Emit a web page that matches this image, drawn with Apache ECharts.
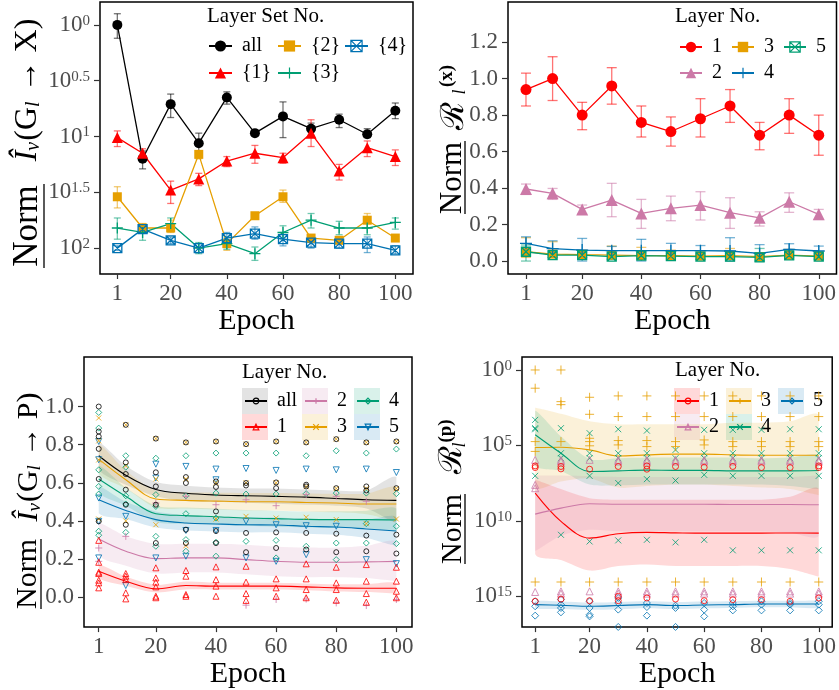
<!DOCTYPE html>
<html>
<head>
<meta charset="utf-8">
<script src="https://cdn.jsdelivr.net/npm/echarts@6/dist/echarts.min.js"></script>
<style>
html, body { margin: 0; padding: 0; background: #fff; }
#main { width: 839px; height: 690px; }
</style>
</head>
<body>
<div id="main"></div>
<script>
var epochs = [1, 10, 20, 30, 40, 50, 60, 70, 80, 90, 100];
var xTicks = [1, 20, 40, 60, 80, 100];
var tlTicks = [0, 0.5, 1, 1.5, 2];
var trTicks = [0, 0.2, 0.4, 0.6, 0.8, 1.0, 1.2];
var blTicks = [0, 0.2, 0.4, 0.6, 0.8, 1.0];
var brTicks = [0, 5, 10, 15];

// top left: exponents shown on the axis (10^x), mean and error bar ends
var tlAll = [0.00, 1.20, 0.71, 1.06, 0.65, 0.97, 0.82, 0.93, 0.85, 0.98, 0.77];
var tlAllLo = [-0.10, 1.13, 0.62, 0.97, 0.60, 0.95, 0.69, 0.88, 0.80, 0.93, 0.70];
var tlAllHi = [0.12, 1.29, 0.83, 1.15, 0.71, 0.99, 1.01, 1.00, 0.92, 1.01, 0.84];
var tlSet1 = [1.01, 1.15, 1.48, 1.38, 1.22, 1.15, 1.19, 0.97, 1.31, 1.10, 1.18];
var tlSet1Lo = [0.95, 1.11, 1.40, 1.33, 1.18, 1.08, 1.15, 0.85, 1.25, 1.04, 1.12];
var tlSet1Hi = [1.09, 1.18, 1.60, 1.44, 1.27, 1.24, 1.24, 1.09, 1.39, 1.18, 1.26];
var tlSet2 = [1.54, 1.82, 1.82, 1.16, 1.96, 1.71, 1.54, 1.91, 1.93, 1.75, 1.91];
var tlSet2Lo = [1.45, 1.78, 1.75, 1.13, 1.93, 1.69, 1.48, 1.89, 1.91, 1.69, 1.89];
var tlSet2Hi = [1.64, 1.85, 1.86, 1.20, 2.02, 1.73, 1.59, 1.93, 1.95, 1.82, 1.93];
var tlSet3 = [1.82, 1.86, 1.78, 2.00, 1.96, 2.05, 1.86, 1.75, 1.82, 1.82, 1.77];
var tlSet3Lo = [1.73, 1.80, 1.73, 1.95, 1.90, 1.99, 1.80, 1.69, 1.76, 1.76, 1.73];
var tlSet3Hi = [1.92, 1.93, 1.83, 2.05, 2.01, 2.11, 1.92, 1.82, 1.88, 1.88, 1.83];
var tlSet4 = [2.00, 1.83, 1.93, 2.00, 1.91, 1.87, 1.92, 1.95, 1.96, 1.96, 2.02];
var tlSet4Lo = [1.98, 1.79, 1.90, 1.96, 1.86, 1.81, 1.86, 1.90, 1.91, 1.90, 1.98];
var tlSet4Hi = [2.02, 1.86, 1.96, 2.04, 1.97, 1.92, 1.98, 2.00, 2.00, 2.04, 2.05];

// top right
var trL1 = [0.94, 1.00, 0.80, 0.96, 0.76, 0.71, 0.78, 0.85, 0.69, 0.80, 0.69];
var trL1Lo = [0.85, 0.88, 0.72, 0.86, 0.68, 0.63, 0.68, 0.76, 0.61, 0.70, 0.58];
var trL1Hi = [1.03, 1.12, 0.87, 1.06, 0.85, 0.79, 0.89, 0.94, 0.76, 0.89, 0.80];
var trL2 = [0.395, 0.371, 0.283, 0.334, 0.261, 0.289, 0.307, 0.265, 0.237, 0.325, 0.256];
var trL2Lo = [0.365, 0.338, 0.258, 0.243, 0.179, 0.221, 0.225, 0.179, 0.192, 0.267, 0.228];
var trL2Hi = [0.422, 0.398, 0.307, 0.426, 0.338, 0.356, 0.380, 0.347, 0.270, 0.374, 0.283];
var trL3 = [0.051, 0.038, 0.035, 0.033, 0.030, 0.030, 0.027, 0.030, 0.024, 0.033, 0.027];
var trL3Lo = [0.020, 0.020, 0.020, 0.010, 0.010, 0.010, 0.010, 0.010, 0.010, 0.010, 0.010];
var trL3Hi = [0.128, 0.106, 0.060, 0.082, 0.075, 0.060, 0.050, 0.069, 0.040, 0.064, 0.050];
var trL4 = [0.097, 0.068, 0.060, 0.057, 0.057, 0.057, 0.057, 0.055, 0.042, 0.064, 0.055];
var trL4Lo = [0.060, 0.030, 0.000, 0.030, 0.000, 0.020, 0.030, 0.000, 0.000, 0.030, 0.030];
var trL4Hi = [0.133, 0.111, 0.124, 0.080, 0.119, 0.097, 0.085, 0.128, 0.090, 0.095, 0.082];
var trL5 = [0.051, 0.033, 0.033, 0.024, 0.030, 0.027, 0.024, 0.024, 0.020, 0.031, 0.024];
var trL5Lo = [0.000, 0.020, 0.020, 0.010, 0.015, 0.015, 0.010, 0.010, 0.000, 0.020, 0.010];
var trL5Hi = [0.088, 0.050, 0.050, 0.040, 0.045, 0.040, 0.040, 0.040, 0.069, 0.050, 0.040];

// bottom left: smoothed fits and their bands
var blAllFit = [0.742, 0.640, 0.565, 0.545, 0.536, 0.532, 0.529, 0.525, 0.518, 0.511, 0.508];
var blAllLo = [0.670, 0.590, 0.530, 0.505, 0.500, 0.495, 0.490, 0.485, 0.480, 0.465, 0.390];
var blAllHi = [0.810, 0.690, 0.605, 0.585, 0.575, 0.570, 0.570, 0.565, 0.560, 0.560, 0.630];
var bl1Fit = [0.136, 0.084, 0.044, 0.061, 0.058, 0.058, 0.058, 0.054, 0.049, 0.047, 0.047];
var bl1Lo = [0.100, 0.060, 0.025, 0.040, 0.040, 0.040, 0.040, 0.036, 0.030, 0.027, 0.020];
var bl1Hi = [0.170, 0.108, 0.065, 0.082, 0.076, 0.076, 0.076, 0.072, 0.068, 0.068, 0.074];
var bl2Fit = [0.305, 0.241, 0.202, 0.206, 0.206, 0.197, 0.188, 0.183, 0.183, 0.185, 0.188];
var bl2Lo = [0.220, 0.165, 0.125, 0.130, 0.130, 0.120, 0.110, 0.105, 0.105, 0.100, 0.085];
var bl2Hi = [0.390, 0.320, 0.280, 0.280, 0.280, 0.275, 0.265, 0.260, 0.260, 0.270, 0.290];
var bl3Fit = [0.724, 0.616, 0.515, 0.508, 0.504, 0.501, 0.501, 0.497, 0.494, 0.489, 0.489];
var bl3Lo = [0.650, 0.570, 0.470, 0.465, 0.460, 0.455, 0.455, 0.450, 0.445, 0.435, 0.400];
var bl3Hi = [0.800, 0.665, 0.560, 0.550, 0.548, 0.547, 0.547, 0.544, 0.543, 0.543, 0.575];
var bl4Fit = [0.620, 0.529, 0.438, 0.428, 0.422, 0.415, 0.412, 0.408, 0.407, 0.407, 0.405];
var bl4Lo = [0.550, 0.480, 0.395, 0.385, 0.380, 0.373, 0.370, 0.366, 0.363, 0.360, 0.345];
var bl4Hi = [0.690, 0.575, 0.480, 0.470, 0.464, 0.457, 0.454, 0.450, 0.451, 0.454, 0.465];
var bl5Fit = [0.511, 0.455, 0.407, 0.389, 0.384, 0.380, 0.379, 0.372, 0.368, 0.358, 0.347];
var bl5Lo = [0.440, 0.410, 0.365, 0.350, 0.345, 0.340, 0.340, 0.333, 0.327, 0.310, 0.270];
var bl5Hi = [0.580, 0.500, 0.450, 0.430, 0.423, 0.420, 0.418, 0.411, 0.409, 0.406, 0.420];

// bottom left: raw points, one list per epoch
var blAllPts = [[1.0, 0.869, 0.843, 0.778, 0.62, 0.398], [0.904, 0.707, 0.646, 0.564, 0.485, 0.38], [0.832, 0.655, 0.581, 0.485, 0.284], [0.812, 0.63, 0.599, 0.354, 0.284], [0.817, 0.607, 0.578, 0.45, 0.347, 0.284], [0.803, 0.599, 0.586, 0.337, 0.236], [0.817, 0.602, 0.572, 0.34, 0.258], [0.812, 0.59, 0.581, 0.337, 0.25], [0.829, 0.572, 0.333, 0.236], [0.812, 0.581, 0.56, 0.323, 0.241], [0.817, 0.572, 0.328, 0.229]];
var bl1Pts = [[0.298, 0.183, 0.131, 0.124, 0.089, 0.075, 0.049], [0.124, 0.11, 0.092, 0.023, -0.009], [0.154, 0.101, 0.079, 0.054, 0.005, -0.003], [0.14, 0.11, 0.014, 0.005], [0.159, 0.092, 0.058, 0.005], [0.162, 0.079, 0.019, -0.017], [0.096, 0.049, 0.005], [0.175, 0.096, 0.04, -0.003], [0.157, 0.075, 0.04, -0.016], [0.171, 0.084, 0.019, -0.026], [0.157, 0.084, 0.031, -0.003]];
var bl2Pts = [[0.258, 0.188], [0.319], [0.494], [0.529], [0.485], [0.511, -0.042], [0.48, -0.012], [0.538, -0.01], [0.529, -0.03], [0.503, -0.044], [-0.012]];
var bl3Pts = [[0.94, 0.82, 0.72, 0.41], [0.904, 0.69, 0.40], [0.832, 0.62, 0.38], [0.812, 0.62, 0.27], [0.817, 0.60, 0.41], [0.803, 0.60, 0.424], [0.817, 0.60, 0.415], [0.812, 0.58, 0.419], [0.829, 0.57, 0.407], [0.812, 0.57, 0.386], [0.817, 0.57, 0.41]];
var bl4Pts = [[0.969, 0.887, 0.668, 0.581, 0.541, 0.346, 0.325], [0.742, 0.682, 0.532, 0.489, 0.34], [0.729, 0.538, 0.476, 0.319, 0.267], [0.742, 0.532, 0.438, 0.302, 0.241], [0.756, 0.546, 0.415, 0.288, 0.215], [0.756, 0.541, 0.293], [0.756, 0.541, 0.298, 0.206], [0.742, 0.543, 0.267], [0.768, 0.546, 0.284, 0.197], [0.756, 0.546, 0.386, 0.284], [0.777, 0.543, 0.372, 0.281]];
var bl5Pts = [[0.817, 0.721, 0.52, 0.398, 0.206], [0.424, 0.061], [0.698, 0.625, 0.206], [0.686, 0.35, 0.215], [0.672, 0.616, 0.35], [0.675, 0.398, 0.206], [0.665, 0.38, 0.188], [0.672, 0.375, 0.223], [0.668, 0.372], [0.672, 0.197], [0.654, 0.176]];

// bottom right: exponents (10^x), fits and bands
var br1Fit = [8.17, 10.04, 11.15, 10.86, 10.77, 10.80, 10.82, 10.82, 10.82, 10.81, 10.82];
var br1Lo = [7.3, 7.9, 8.5, 8.6, 8.6, 8.6, 8.6, 8.6, 8.6, 8.4, 7.9];
var br1Hi = [12.2, 12.6, 13.3, 13.0, 12.9, 13.0, 13.0, 13.0, 13.0, 13.2, 13.7];
var br2Fit = [9.56, 9.16, 8.87, 8.90, 8.90, 8.90, 8.90, 8.92, 8.92, 8.92, 8.94];
var br2Lo = [7.0, 7.0, 7.05, 7.1, 7.1, 7.1, 7.1, 7.1, 7.1, 7.1, 7.0];
var br2Hi = [12.0, 11.0, 10.6, 10.7, 10.7, 10.7, 10.7, 10.7, 10.7, 10.8, 11.0];
var br3Fit = [5.14, 5.12, 5.30, 5.70, 5.63, 5.58, 5.58, 5.63, 5.65, 5.65, 5.65];
var br3Lo = [2.5, 2.9, 3.4, 3.6, 3.6, 3.6, 3.6, 3.5, 3.5, 3.4, 3.0];
var br3Hi = [7.8, 7.4, 7.2, 7.8, 7.7, 7.6, 7.6, 7.7, 7.8, 7.9, 8.3];
var br4Fit = [4.30, 5.52, 6.73, 6.69, 6.64, 6.66, 6.66, 6.69, 6.69, 6.69, 6.67];
var br4Lo = [2.7, 4.4, 5.9, 5.85, 5.8, 5.8, 5.8, 5.8, 5.85, 5.8, 5.7];
var br4Hi = [6.3, 6.7, 7.6, 7.65, 7.6, 7.6, 7.6, 7.6, 7.6, 7.7, 7.9];
var br5Fit = [15.56, 15.60, 15.67, 15.62, 15.56, 15.62, 15.58, 15.56, 15.52, 15.52, 15.52];
var br5Lo = [15.30, 15.35, 15.42, 15.38, 15.33, 15.38, 15.35, 15.33, 15.30, 15.30, 15.28];
var br5Hi = [15.80, 15.85, 15.90, 15.86, 15.80, 15.85, 15.80, 15.78, 15.74, 15.74, 15.76];

var br1Pts = [[6.36, 6.47, 15.34], [6.40, 6.56, 15.19], [6.58, 15.30], [6.40, 15.01, 15.30], [6.36, 6.58, 15.12], [6.40, 15.19], [6.45, 15.30], [6.40, 15.23], [6.47, 15.23], [6.47, 15.34], [6.36, 6.47, 15.12]];
var br2Pts = [[5.96, 7.62, 7.84, 14.72], [5.96, 6.07, 14.68, 14.83], [5.96, 14.68], [5.96, 6.07, 14.68, 14.83], [5.96, 6.07, 14.68, 14.83], [5.96, 6.07, 14.68, 14.83], [5.96, 6.07, 14.68, 14.83], [5.96, 6.07, 14.68, 14.83], [5.96, 6.07, 14.68, 14.83], [5.96, 6.07, 14.68, 14.83], [5.96, 6.07, 14.68, 14.83]];
var br3Pts = [[0, 1.21, 4.75, 5.4, 14.06], [0, 2.1, 2.3, 4.75, 14.06], [1.81, 2.94, 4.53, 4.75, 5.03, 14.06], [1.72, 3.09, 4.68, 4.97, 14.06], [1.72, 3.09, 4.68, 5.08, 14.06], [1.72, 3.09, 4.75, 5.08, 14.06], [1.72, 3.09, 4.64, 4.97, 14.06], [1.72, 3.09, 4.75, 5.08, 14.06], [1.72, 3.09, 4.75, 5.08, 14.06], [1.72, 3.09, 4.75, 5.08, 14.06], [1.72, 3.09, 4.75, 5.08, 14.06]];
var br4Pts = [[3.31, 3.86, 3.93, 7.02], [3.86, 5.52, 5.85, 10.93], [4.19, 5.52, 5.85, 7.02, 11.37], [3.93, 5.52, 5.85, 7.50, 11.30], [4.02, 5.52, 5.85, 7.24, 11.26], [5.30, 5.85, 7.33, 11.43], [3.97, 5.52, 5.85, 6.95, 11.26], [3.97, 5.52, 5.85, 7.02, 11.96], [3.97, 5.52, 5.85, 7.02, 11.96], [3.93, 5.52, 5.85, 7.02, 11.96], [3.93, 5.52, 5.85, 7.02, 11.96]];
var br5Pts = [[15.34, 15.67, 16.29], [15.23, 15.56, 15.78, 16.07], [15.34, 15.78, 16.23, 16.34], [15.12, 15.45, 15.89, 17.04], [15.45, 15.72, 16.29], [15.63, 15.78, 17.04], [15.45, 15.89, 16.34], [15.45, 15.67, 15.94], [15.34, 15.56, 15.94], [15.45, 15.56, 15.94], [15.34, 15.56, 15.94]];

(function () {
    var FONT = "'Liberation Serif', 'DejaVu Serif', serif";
    var BLACK = '#000000', RED = '#FF0000', ORANGE = '#E69F00', GREEN = '#009E73', BLUE = '#0072B2', PINK = '#CC79A7';
    var GREY = '#4D4D4D';

    var PLUS = 'path://M5,0 L5,10 M0,5 L10,5';
    var CROSS = 'path://M0,0 L10,10 M10,0 L0,10';
    var BOXX = 'path://M0,0 L10,0 L10,10 L0,10 Z M0,0 L10,10 M10,0 L0,10';
    var OCIRCLE = 'path://M10,5 A5,5 0 1,1 0,5 A5,5 0 1,1 10,5 Z';
    var OTRI = 'path://M5,0 L10,9 L0,9 Z';
    var ODOWN = 'path://M0,0 L10,0 L5,9 Z';
    var ODIAM = 'path://M5,0 L10,5 L5,10 L0,5 Z';
    var NOFILL = 'rgba(0,0,0,0)';

    function fade(hex, a) {
        var r = parseInt(hex.substr(1, 2), 16), g = parseInt(hex.substr(3, 2), 16), b = parseInt(hex.substr(5, 2), 16);
        return 'rgba(' + r + ',' + g + ',' + b + ',' + a + ')';
    }
    function pairs(ys) {
        return epochs.map(function (e, i) { return [e, ys[i]]; });
    }
    function points(lists) {
        var out = [];
        lists.forEach(function (vals, i) {
            vals.forEach(function (v) { out.push([epochs[i], v]); });
        });
        return out;
    }

    var grids = [
        { left: 100, top: 2, width: 313, height: 272 },
        { left: 508, top: 2, width: 329, height: 272 },
        { left: 84, top: 357, width: 328, height: 271 },
        { left: 522, top: 357, width: 314, height: 271 }
    ].map(function (g) {
        g.show = true;
        g.borderColor = '#000';
        g.borderWidth = 1.5;
        g.backgroundColor = 'transparent';
        return g;
    });

    function xAxis(idx, min, max, gap) {
        return {
            type: 'value', gridIndex: idx, min: min, max: max, position: 'bottom',
            axisLine: { show: false, onZero: false },
            splitLine: { show: false },
            axisTick: { customValues: xTicks, length: 5, lineStyle: { color: '#333', width: 1.2 } },
            axisLabel: { customValues: xTicks, fontSize: 23, color: GREY, fontFamily: FONT, margin: 8 },
            name: 'Epoch', nameLocation: 'middle', nameGap: gap,
            nameTextStyle: { fontSize: 30, color: '#000', fontFamily: FONT }
        };
    }
    function yAxis(idx, min, max, ticks, inverse, fmt) {
        return {
            type: 'value', gridIndex: idx, min: min, max: max, inverse: inverse, position: 'left',
            axisLine: { show: false, onZero: false },
            splitLine: { show: false },
            axisTick: { customValues: ticks, length: 6, lineStyle: { color: '#333', width: 1.2 } },
            axisLabel: {
                customValues: ticks, fontSize: 23, color: GREY, fontFamily: FONT, margin: 10,
                formatter: fmt,
                rich: { s: { fontSize: 15, color: GREY, fontFamily: FONT, verticalAlign: 'top', padding: [0, 0, 8, 0] } }
            }
        };
    }
    function pow10(v) { return '10{s|' + v + '}'; }
    function fixed1(v) { return v.toFixed(1); }

    var series = [];

    // confidence band: one smoothed polygon per group, corners placed through the axes
    function band(idx, lo, hi, color, alpha) {
        series.push({
            type: 'custom', xAxisIndex: idx, yAxisIndex: idx, silent: true, z: 1, clip: true,
            data: epochs.map(function (e, i) { return [e, lo[i], hi[i]]; }),
            encode: { x: 0, y: [1, 2] },
            renderItem: function (params, api) {
                if (params.dataIndex !== 0) {
                    return null;
                }
                var upper = [], lower = [];
                for (var i = 0; i < epochs.length; i++) {
                    upper.push(api.coord([epochs[i], hi[i]]));
                    lower.unshift(api.coord([epochs[i], lo[i]]));
                }
                var pts = upper.concat(lower);
                var mn = [Infinity, Infinity], mx = [-Infinity, -Infinity];
                pts.forEach(function (p) {
                    mn[0] = Math.min(mn[0], p[0]); mn[1] = Math.min(mn[1], p[1]);
                    mx[0] = Math.max(mx[0], p[0]); mx[1] = Math.max(mx[1], p[1]);
                });
                return {
                    type: 'polygon',
                    shape: { points: pts, smooth: 0.3, smoothConstraint: [mn, mx] },
                    style: { fill: fade(color, alpha) }
                };
            }
        });
    }
    function errorBars(idx, lo, hi, color, half) {
        series.push({
            type: 'custom', xAxisIndex: idx, yAxisIndex: idx, silent: true, z: 3,
            data: epochs.map(function (e, i) { return [e, lo[i], hi[i]]; }),
            encode: { x: 0, y: [1, 2] },
            renderItem: function (params, api) {
                var x = api.value(0);
                var a = api.coord([x, api.value(1)]);
                var b = api.coord([x, api.value(2)]);
                var st = { stroke: fade(color, 0.55), lineWidth: 1.3 };
                return {
                    type: 'group',
                    children: [
                        { type: 'line', shape: { x1: a[0], y1: a[1], x2: b[0], y2: b[1] }, style: st },
                        { type: 'line', shape: { x1: a[0] - half, y1: a[1], x2: a[0] + half, y2: a[1] }, style: st },
                        { type: 'line', shape: { x1: b[0] - half, y1: b[1], x2: b[0] + half, y2: b[1] }, style: st }
                    ]
                };
            }
        });
    }
    function meanLine(idx, name, ys, color, symbol, size, filled) {
        series.push({
            type: 'line', name: name, xAxisIndex: idx, yAxisIndex: idx, data: pairs(ys),
            symbol: symbol, symbolSize: size,
            lineStyle: { color: color, width: 1.3 },
            itemStyle: filled ? { color: color } : { color: NOFILL, borderColor: color, borderWidth: 1.3 },
            z: 4
        });
    }
    function fitLine(idx, name, ys, color, symbol) {
        series.push({
            type: 'line', name: name, xAxisIndex: idx, yAxisIndex: idx, data: pairs(ys),
            smooth: 0.35, symbol: symbol, symbolSize: 6, showSymbol: false,
            lineStyle: { color: color, width: 1.1 },
            itemStyle: { color: NOFILL, borderColor: color, borderWidth: 1 },
            z: 4
        });
    }
    function cloud(idx, lists, color, symbol, size) {
        series.push({
            type: 'scatter', xAxisIndex: idx, yAxisIndex: idx, data: points(lists),
            symbol: symbol, symbolSize: size, silent: true,
            itemStyle: { color: NOFILL, borderColor: color, borderWidth: 1 },
            z: 5
        });
    }

    // bands
    band(2, blAllLo, blAllHi, BLACK, 0.11);
    band(2, bl3Lo, bl3Hi, ORANGE, 0.15);
    band(2, bl4Lo, bl4Hi, GREEN, 0.15);
    band(2, bl5Lo, bl5Hi, BLUE, 0.15);
    band(2, bl2Lo, bl2Hi, PINK, 0.15);
    band(2, bl1Lo, bl1Hi, RED, 0.15);
    band(3, br3Lo, br3Hi, ORANGE, 0.15);
    band(3, br4Lo, br4Hi, GREEN, 0.15);
    band(3, br1Lo, br1Hi, RED, 0.15);
    band(3, br2Lo, br2Hi, PINK, 0.15);
    band(3, br5Lo, br5Hi, BLUE, 0.15);

    // error bars
    errorBars(0, tlAllLo, tlAllHi, BLACK, 3.5);
    errorBars(0, tlSet1Lo, tlSet1Hi, RED, 3.5);
    errorBars(0, tlSet2Lo, tlSet2Hi, ORANGE, 3.5);
    errorBars(0, tlSet3Lo, tlSet3Hi, GREEN, 3.5);
    errorBars(0, tlSet4Lo, tlSet4Hi, BLUE, 3.5);
    errorBars(1, trL1Lo, trL1Hi, RED, 5);
    errorBars(1, trL2Lo, trL2Hi, PINK, 5);
    errorBars(1, trL3Lo, trL3Hi, ORANGE, 5);
    errorBars(1, trL4Lo, trL4Hi, BLUE, 5);
    errorBars(1, trL5Lo, trL5Hi, GREEN, 5);

    // mean lines
    meanLine(0, 'TL|all', tlAll, BLACK, 'circle', 10, true);
    meanLine(0, 'TL|{1}', tlSet1, RED, 'triangle', 11, true);
    meanLine(0, 'TL|{2}', tlSet2, ORANGE, 'rect', 9, true);
    meanLine(0, 'TL|{3}', tlSet3, GREEN, PLUS, 11, false);
    meanLine(0, 'TL|{4}', tlSet4, BLUE, BOXX, 9, false);
    meanLine(1, 'TR|1', trL1, RED, 'circle', 11, true);
    meanLine(1, 'TR|2', trL2, PINK, 'triangle', 12, true);
    meanLine(1, 'TR|3', trL3, ORANGE, 'rect', 9, true);
    meanLine(1, 'TR|4', trL4, BLUE, PLUS, 12, false);
    meanLine(1, 'TR|5', trL5, GREEN, BOXX, 9, false);

    // fitted curves
    fitLine(2, 'BL|all', blAllFit, BLACK, OCIRCLE);
    fitLine(2, 'BL|1', bl1Fit, RED, OTRI);
    fitLine(2, 'BL|2', bl2Fit, PINK, PLUS);
    fitLine(2, 'BL|3', bl3Fit, ORANGE, CROSS);
    fitLine(2, 'BL|4', bl4Fit, GREEN, ODIAM);
    fitLine(2, 'BL|5', bl5Fit, BLUE, ODOWN);
    fitLine(3, 'BR|1', br1Fit, RED, OCIRCLE);
    fitLine(3, 'BR|2', br2Fit, PINK, OTRI);
    fitLine(3, 'BR|3', br3Fit, ORANGE, PLUS);
    fitLine(3, 'BR|4', br4Fit, GREEN, CROSS);
    fitLine(3, 'BR|5', br5Fit, BLUE, ODIAM);

    // raw points
    cloud(2, bl5Pts, BLUE, ODOWN, 6);
    cloud(2, bl4Pts, GREEN, ODIAM, 6);
    cloud(2, bl2Pts, PINK, PLUS, 7);
    cloud(2, bl1Pts, RED, OTRI, 6);
    cloud(2, bl3Pts, ORANGE, CROSS, 5);
    cloud(2, blAllPts, BLACK, OCIRCLE, 5);
    cloud(3, br5Pts, BLUE, ODIAM, 7);
    cloud(3, br4Pts, GREEN, CROSS, 6);
    cloud(3, br3Pts, ORANGE, PLUS, 9);
    cloud(3, br2Pts, PINK, OTRI, 7);
    cloud(3, br1Pts, RED, OCIRCLE, 6);

    // legends, one component per entry; open markers get an explicit outline style
    var legends = [];
    function legendItem(name, left, cy, iw, ih, openColor) {
        var h = Math.max(ih, 20);
        var item = {
            data: [name], left: left, top: cy - h / 2, padding: 0,
            itemWidth: iw, itemHeight: ih, selectedMode: false,
            formatter: function (n) { return ' ' + n.split('|')[1]; },
            textStyle: { fontSize: 20, color: '#000', fontFamily: FONT }
        };
        if (openColor) {
            item.itemStyle = { color: NOFILL, borderColor: openColor, borderWidth: 1.2 };
        }
        legends.push(item);
    }
    [['TL|all', 208, 46], ['TL|{2}', 277, 46], ['TL|{4}', 344, 46, BLUE], ['TL|{1}', 208, 73], ['TL|{3}', 277, 73, GREEN]].forEach(function (l) {
        legendItem(l[0], l[1], l[2], 23, 14, l[3]);
    });
    [['TR|1', 679, 47], ['TR|3', 731, 47], ['TR|5', 783, 47, GREEN], ['TR|2', 679, 73], ['TR|4', 731, 73, BLUE]].forEach(function (l) {
        legendItem(l[0], l[1], l[2], 22, 13, l[3]);
    });
    [['BL|all', 244, 401, BLACK], ['BL|2', 304, 401, PINK], ['BL|4', 356, 401, GREEN], ['BL|1', 244, 427, RED], ['BL|3', 304, 427, ORANGE], ['BL|5', 356, 427, BLUE]].forEach(function (l) {
        legendItem(l[0], l[1], l[2], 22, 7, l[3]);
    });
    [['BR|1', 676, 401, RED], ['BR|3', 728, 401, ORANGE], ['BR|5', 780, 401, BLUE], ['BR|2', 676, 427, PINK], ['BR|4', 728, 427, GREEN]].forEach(function (l) {
        legendItem(l[0], l[1], l[2], 22, 7, l[3]);
    });

    function keyBox(x, y, color, alpha) {
        return { type: 'rect', x: x, y: y, z: 0, shape: { width: 26, height: 26 }, style: { fill: fade(color, alpha) } };
    }
    function label(text, x, y, size, extra) {
        var st = { text: text, fontSize: size, fontFamily: FONT, fill: '#000', align: 'left', verticalAlign: 'middle', textAlign: 'left', textVerticalAlign: 'middle' };
        for (var k in extra) { st[k] = extra[k]; }
        return { type: 'text', x: x, y: y, z: 10, style: st };
    }
    function vtext(text, x, y, size, rich, extra) {
        var st = { text: text, fontSize: size, fontFamily: FONT, fill: '#000', align: 'center', verticalAlign: 'middle', textAlign: 'center', textVerticalAlign: 'middle', rich: rich || {} };
        for (var k in extra) { st[k] = extra[k]; }
        return { type: 'text', x: x, y: y, rotation: Math.PI / 2, z: 10, style: st };
    }
    function underline(x, y1, y2) {
        return { type: 'line', z: 10, shape: { x1: x, y1: y1, x2: x, y2: y2 }, style: { stroke: '#000', lineWidth: 1.3 } };
    }
    function iRich(size) {
        return {
            it: { fontSize: size, fontStyle: 'italic', fontFamily: FONT },
            sb: { fontSize: Math.round(size * 0.62), fontStyle: 'italic', fontFamily: FONT, verticalAlign: 'bottom', padding: [0, 1, 0, 0] },
            n: { fontSize: size, fontFamily: FONT }
        };
    }

    var graphics = [
        label('Layer Set No.', 207, 16, 21),
        label('Layer No.', 675, 16, 21),
        label('Layer No.', 242, 372, 21),
        label('Layer No.', 675, 370, 21),
        keyBox(242, 388, BLACK, 0.11), keyBox(302, 388, PINK, 0.15), keyBox(354, 388, GREEN, 0.15),
        keyBox(242, 414, RED, 0.15), keyBox(302, 414, ORANGE, 0.15), keyBox(354, 414, BLUE, 0.15),
        keyBox(674, 388, RED, 0.15), keyBox(726, 388, ORANGE, 0.15), keyBox(778, 388, BLUE, 0.15),
        keyBox(674, 414, PINK, 0.15), keyBox(726, 414, GREEN, 0.15),
        // axis titles
        vtext('Norm', 28, 226, 35),
        underline(44, 184, 268),
        vtext('{it|Î}{sb|ν}{n|(G}{sb|l}{n| → X)}', 28, 90, 32, iRich(32)),
        vtext('Norm', 453, 178, 31),
        underline(465, 141, 214),
        vtext('ℛ', 455, 116, 32),
        vtext('(x)', 447, 76, 19, null, { fontWeight: 'bold' }),
        vtext('l', 460, 92, 18, null, { fontStyle: 'italic' }),
        vtext('Norm', 28, 574, 30),
        underline(41, 539, 609),
        vtext('{it|Î}{sb|ν}{n|(G}{sb|l}{n| → P)}', 29, 457, 30, iRich(30)),
        vtext('Norm', 453, 529, 30),
        underline(465, 494, 564),
        vtext('ℛ', 453, 460, 32),
        vtext('(p)', 446, 431, 19, null, { fontWeight: 'bold' }),
        vtext('l', 460, 445, 18, null, { fontStyle: 'italic' })
    ];

    var myChart = echarts.init(document.getElementById('main'));
    var option = {
        animation: false,
        backgroundColor: '#fff',
        grid: grids,
        xAxis: [
            xAxis(0, -5.17, 106.3, 27),
            xAxis(1, -5.08, 106, 27),
            xAxis(2, -3.9, 105.2, 26),
            xAxis(3, -3.6, 104.7, 26)
        ],
        yAxis: [
            yAxis(0, -0.205, 2.232, tlTicks, true, pow10),
            yAxis(1, -0.071, 1.42, trTicks, false, fixed1),
            yAxis(2, -0.157, 1.26, blTicks, false, fixed1),
            yAxis(3, -0.86, 17.05, brTicks, true, pow10)
        ],
        legend: legends,
        graphic: { elements: graphics },
        series: series
    };
    myChart.setOption(option);
    window.addEventListener('resize', function () {
        myChart.resize();
    });
})();
</script>
</body>
</html>
